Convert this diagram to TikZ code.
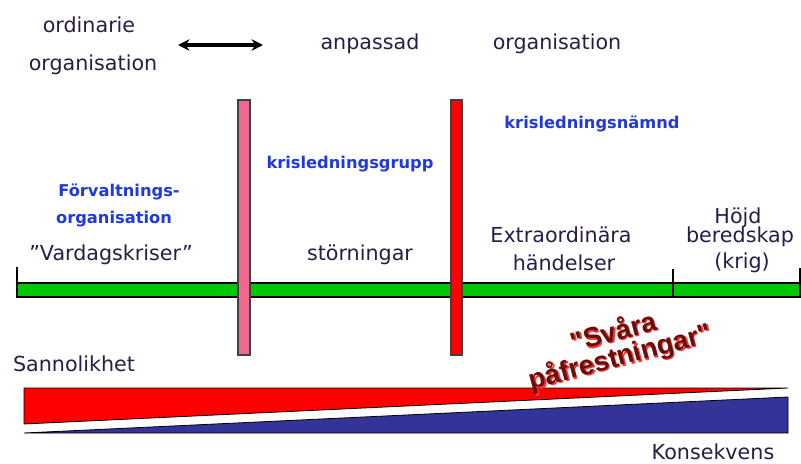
\documentclass[tikz,border=0pt]{standalone}
\usepackage{fontspec}
\setmainfont{DejaVu Sans}
\newfontfamily\heavysans{Liberation Sans}
\usetikzlibrary{arrows.meta,positioning}

\definecolor{lblcol}{RGB}{40,28,72}
\definecolor{orgblue}{RGB}{32,56,224}
\definecolor{barpink}{RGB}{240,104,144}
\definecolor{bargreen}{RGB}{0,200,0}
\definecolor{wedgeblue}{RGB}{51,51,153}
\definecolor{darkred}{RGB}{105,15,10}

\begin{document}
\begin{tikzpicture}[x=0.75pt,y=-0.75pt,
  lbl/.style={text=lblcol,font=\fontsize{15.5}{18}\selectfont,inner sep=0pt,anchor=base},
  org/.style={text=orgblue,font=\fontsize{12.2}{14}\selectfont\bfseries,inner sep=0pt,anchor=base},
  bar/.style={draw=black!75,line width=0.9pt},
  tick/.style={line width=1.6pt},
  svtxt/.style={font=\heavysans\fontsize{20.5}{19}\selectfont\bfseries,align=center,
                rotate=15,inner sep=0pt},
  ar/.style={{Stealth[length=3mm,width=3mm]}-{Stealth[length=3mm,width=3mm]},line width=2.4pt}]
\useasboundingbox (0,0) rectangle (801,464);

% upper labels
\node[lbl] (ord) at (89,32) {ordinarie};
\node[lbl] (ordorg) at (93,70) {organisation};
\node[lbl] (anp) at (370,50) {anpassad};
\node[lbl] (anporg) at (557,50) {organisation};
\coordinate (arl) at (178,45);
\coordinate (arr) at (263,45);
\draw[ar] (arl) -- (arr);

% timeline
\draw[bar,draw=black,fill=bargreen] (17,283) rectangle (803,297);
\draw[tick] (17,267) -- (17,297);
\draw[tick] (673,269) -- (673,297);
\draw[tick] (800,268) -- (800,297);

% vertical bars
\draw[bar,fill=barpink] (238,100) rectangle (250,355);
\draw[bar,fill=red] (451,100) rectangle (462,355);

% organisation names
\node[org] (kln) at (592,128) {krisledningsnämnd};
\node[org] (klg) at (350,168) {krisledningsgrupp};
\node[org] (forv) at (119,196) {Förvaltnings-};
\node[org] (forvorg) at (114,223) {organisation};

% kinds of events
\node[lbl] (vard) at (111,260) {”Vardagskriser”};
\node[lbl] (stor) at (360,260) {störningar};
\node[lbl] (extra) at (561,242) {Extraordinära};
\node[lbl] (hand) at (564,270) {händelser};
\node[lbl] (hojd) at (738,223) {Höjd};
\node[lbl] (bered) at (740,242) {beredskap};
\node[lbl] (krig) at (742,268) {(krig)};

% wedges
\node[lbl] (sann) at (74,371) {Sannolikhet};
\draw[line width=0.6pt,fill=red] (24,388) -- (788,388) -- (24,424) -- cycle;
\draw[line width=0.6pt,fill=wedgeblue] (24,433) -- (788,433) -- (788,397) -- cycle;
\node[lbl] (kons) at (713,459) {Konsekvens};

% svara pafrestningar, red halo under dark text
\node[svtxt,text=red!80!white] (svglow) at (618.5,346.5) {"Svåra\\påfrestningar"};
\node[svtxt,text=darkred] (svara) at (617,345) {"Svåra\\påfrestningar"};
\end{tikzpicture}
\end{document}
